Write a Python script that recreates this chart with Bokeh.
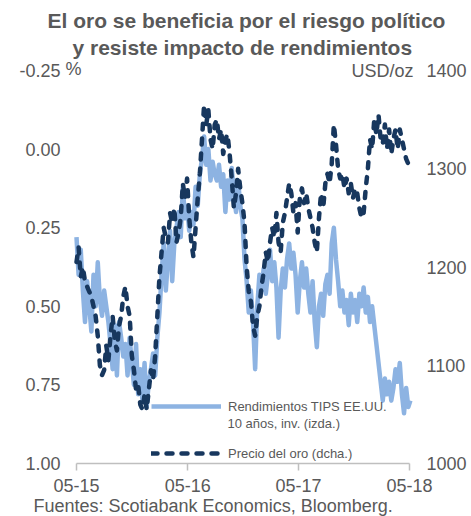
import pandas as pd
from bokeh.plotting import figure
from bokeh.models import (Range1d, LinearAxis, FixedTicker, NumeralTickFormatter,
                          DatetimeTickFormatter, Legend, LegendItem, Label, Title)
from bokeh.embed import file_html
from bokeh.resources import INLINE

# ---------------- data (weekly readings from the chart) ----------------
start_date = "2015-05-01"

gold = [
    1205, 1220, 1190, 1200, 1185, 1180, 1175, 1170, 1160, 1150,
    1130, 1100, 1090, 1095, 1120, 1105, 1130, 1150, 1125, 1115,
    1140, 1150, 1170, 1180, 1160, 1150, 1110, 1095, 1075, 1080,
    1060, 1055, 1070, 1055, 1075, 1095, 1085, 1110, 1150, 1190,
    1215, 1240, 1230, 1225, 1255, 1245, 1260, 1225, 1235, 1250,
    1285, 1270, 1290, 1250, 1225, 1210, 1240, 1270, 1295, 1330,
    1365, 1345, 1360, 1330, 1320, 1345, 1350, 1330, 1340, 1315,
    1330, 1335, 1315, 1290, 1260, 1275, 1300, 1280, 1265, 1245,
    1200, 1175, 1165, 1140, 1130, 1150, 1160, 1180, 1195, 1215,
    1205, 1225, 1240, 1230, 1255, 1225, 1215, 1245, 1255, 1270,
    1285, 1275, 1255, 1265, 1235, 1270, 1280, 1265, 1275, 1260,
    1250, 1240, 1225, 1215, 1250, 1275, 1260, 1285, 1295, 1285,
    1305, 1345, 1325, 1300, 1290, 1295, 1280, 1290, 1275, 1285,
    1270, 1280, 1275, 1260, 1250, 1255, 1280, 1300, 1330, 1320,
    1350, 1335, 1355, 1330, 1325, 1345, 1320, 1340, 1315, 1330,
    1340, 1320, 1340, 1330, 1320, 1310, 1305, 1300,
]

tips = [
    0.28, 0.40, 0.32, 0.45, 0.55, 0.42, 0.50, 0.58, 0.40, 0.50,
    0.36, 0.48, 0.53, 0.45, 0.50, 0.55, 0.62, 0.70, 0.56, 0.72,
    0.55, 0.60, 0.66, 0.62, 0.72, 0.60, 0.68, 0.75, 0.62, 0.78,
    0.70, 0.80, 0.68, 0.82, 0.74, 0.70, 0.65, 0.72, 0.60, 0.52,
    0.40, 0.30, 0.45, 0.35, 0.26, 0.42, 0.30, 0.25, 0.20, 0.28,
    0.12, 0.22, 0.18, 0.26, 0.20, 0.24, 0.12, 0.18, 0.08, 0.03,
    -0.04, 0.05, 0.00, 0.10, 0.04, 0.08, 0.10, 0.05, 0.12, 0.08,
    0.20, 0.10, 0.16, 0.06, 0.14, 0.20, 0.10, 0.18, 0.22, 0.35,
    0.42, 0.52, 0.45, 0.55, 0.70, 0.50, 0.40, 0.45, 0.38, 0.46,
    0.40, 0.32, 0.42, 0.36, 0.44, 0.60, 0.45, 0.38, 0.44, 0.35,
    0.30, 0.38, 0.33, 0.40, 0.52, 0.42, 0.36, 0.44, 0.38, 0.46,
    0.52, 0.42, 0.55, 0.63, 0.50, 0.46, 0.53, 0.43, 0.40, 0.46,
    0.30, 0.25, 0.35, 0.42, 0.50, 0.45, 0.52, 0.48, 0.56, 0.46,
    0.52, 0.48, 0.55, 0.46, 0.50, 0.44, 0.52, 0.47, 0.55, 0.50,
    0.56, 0.62, 0.68, 0.74, 0.80, 0.73, 0.78, 0.74, 0.80, 0.76,
    0.70, 0.74, 0.68, 0.78, 0.84, 0.76, 0.82, 0.80,
]

x_tick_dates = ["2015-05-01", "2016-05-01", "2017-05-01", "2018-05-01"]
tips_ticks = [-0.25, 0.0, 0.25, 0.50, 0.75, 1.00]
gold_ticks = [1000, 1100, 1200, 1300, 1400]

title_lines = ["El oro se beneficia por el riesgo político",
               "y resiste impacto de rendimientos"]
tips_label = ["Rendimientos TIPS EE.UU.", "10 años, inv. (izda.)"]
gold_label = "Precio del oro (dcha.)"
source_text = "Fuentes: Scotiabank Economics, Bloomberg."

# ---------------- styling / geometry ----------------
FONT = "Liberation Sans"
GREY = "#595959"
LIGHT = "#8DB3E2"
DARK = "#17375E"
AXIS = "#BFBFBF"

AXIS_W, AXIS_H = 333, 393        # pixel span between first/last ticks
PAD_L, PAD_R, PAD_T = 12, 6, 10  # empty frame room so unit labels are not clipped

dates = pd.date_range(start_date, periods=len(gold), freq="7D")
t0 = pd.Timestamp(x_tick_dates[0])
t1 = pd.Timestamp(x_tick_dates[-1])
tick_ms = [pd.Timestamp(d).value // 10**6 for d in x_tick_dates]
span = t1 - t0
x_start = t0 - span * (PAD_L / AXIS_W)
x_end = t1 + span * (PAD_R / AXIS_W)
tips_top = tips_ticks[0] - (tips_ticks[-1] - tips_ticks[0]) * PAD_T / AXIS_H
gold_top = gold_ticks[-1] + (gold_ticks[-1] - gold_ticks[0]) * PAD_T / AXIS_H

p = figure(frame_width=AXIS_W + PAD_L + PAD_R, frame_height=AXIS_H + PAD_T,
           x_axis_type="datetime", output_backend="svg", toolbar_location=None,
           x_range=Range1d(x_start, x_end),
           y_range=Range1d(tips_ticks[-1], tips_top),
           min_border_left=64, min_border_right=56,
           min_border_top=60, min_border_bottom=53)
p.extra_y_ranges = {"gold": Range1d(gold_ticks[0], gold_top)}
p.outline_line_color = None
p.xgrid.grid_line_color = None
p.ygrid.grid_line_color = None
p.background_fill_color = "white"
p.border_fill_color = "white"

# two title lines (first added sits closest to the frame)
p.add_layout(Title(text=title_lines[1], text_font=FONT, text_font_size="21px",
                   text_font_style="bold", text_color=GREY, align="left",
                   offset=8, standoff=4), "above")
p.add_layout(Title(text=title_lines[0], text_font=FONT, text_font_size="21px",
                   text_font_style="bold", text_color=GREY, align="left",
                   offset=-17, standoff=0), "above")

# x axis
xa = p.xaxis[0]
xa.ticker = FixedTicker(ticks=tick_ms)
xa.bounds = (t0, t1)
xa.formatter = DatetimeTickFormatter(years="%m-%y", months="%m-%y", days="%m-%y",
                                     hours="%m-%y", minutes="%m-%y")
xa.axis_line_color = AXIS
xa.axis_line_width = 1.5
xa.major_tick_line_color = AXIS
xa.major_tick_line_width = 1.5
xa.major_tick_out = 7
xa.major_tick_in = 0
xa.minor_tick_line_color = None
xa.major_label_text_font = FONT
xa.major_label_text_font_size = "18px"
xa.major_label_text_color = GREY
xa.major_label_standoff = 8

p.add_layout(Title(text=source_text, text_font=FONT, text_font_size="18px",
                   text_font_style="normal", text_color=GREY, align="left",
                   offset=-31, standoff=-2), "below")

# left axis
ya = p.yaxis[0]
ya.ticker = FixedTicker(ticks=tips_ticks)
ya.formatter = NumeralTickFormatter(format="0.00")
ya.axis_line_color = None
ya.major_tick_line_color = None
ya.minor_tick_line_color = None
ya.major_tick_out = 0
ya.major_tick_in = 0
ya.major_label_text_font = FONT
ya.major_label_text_font_size = "18px"
ya.major_label_text_color = GREY
ya.major_label_standoff = 4

# right axis
ra = LinearAxis(y_range_name="gold", ticker=FixedTicker(ticks=gold_ticks),
                formatter=NumeralTickFormatter(format="0"))
ra.axis_line_color = None
ra.major_tick_line_color = None
ra.minor_tick_line_color = None
ra.major_tick_out = 0
ra.major_tick_in = 0
ra.major_label_text_font = FONT
ra.major_label_text_font_size = "18px"
ra.major_label_text_color = GREY
ra.major_label_standoff = 11
p.add_layout(ra, "right")

# series
r_tips = p.line(dates, tips, line_color=LIGHT, line_width=4.5, line_join="round")
r_gold = p.line(dates, gold, y_range_name="gold", line_color=DARK, line_width=4.5,
                line_dash="6 9", line_cap="round", line_join="round")

legend = Legend(items=[LegendItem(label=tips_label[0], renderers=[r_tips]),
                       LegendItem(label=gold_label, renderers=[r_gold])],
                location=(87, 2), orientation="vertical",
                glyph_width=70, glyph_height=16, label_height=16,
                label_standoff=7, spacing=31, padding=0, margin=0,
                border_line_alpha=0, background_fill_alpha=0,
                label_text_font=FONT, label_text_font_size="13px",
                label_text_color=GREY)
p.add_layout(legend)

def screen_label(x, y, text, size, align="left"):
    lab = Label(x=x, y=y, x_units="screen", y_units="screen", text=text,
                text_font=FONT, text_font_size=size, text_color=GREY,
                text_align=align, text_baseline="middle")
    p.add_layout(lab)

screen_label(163, 40, tips_label[1], "13px")
screen_label(9, 395, "%", "18px", align="center")
screen_label(349, 393, "USD/oz", "18px", align="right")

open("out.html", "w").write(file_html(p, INLINE))
